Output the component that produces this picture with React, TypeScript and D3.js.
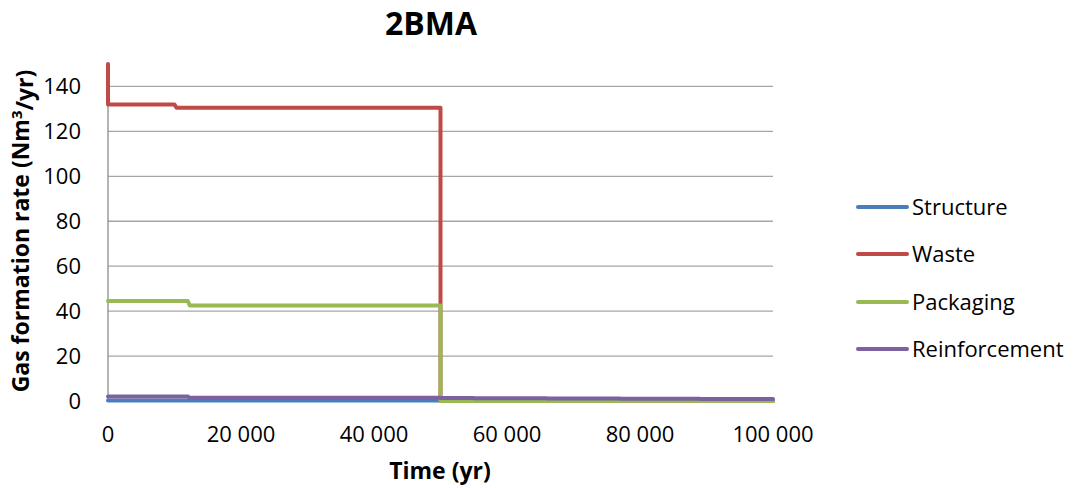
import React from "react";
import * as d3 from "d3";

// Gas formation rate per source, 2BMA (time in years, rate in Nm³/yr)
const structure: [number, number][] = [
  [0, 0.2],
  [100000, 0.2],
];
const waste: [number, number][] = [
  [0, 150],
  [0, 132],
  [10000, 132],
  [10300, 130.5],
  [50000, 130.5],
  [50000, 0],
  [100000, 0],
];
const packaging: [number, number][] = [
  [0, 44.5],
  [12000, 44.5],
  [12300, 42.5],
  [50000, 42.5],
  [50000, 0],
  [100000, 0],
];
const reinforcement: [number, number][] = [
  [0, 2.0],
  [12000, 2.0],
  [12300, 1.4],
  [50000, 1.4],
  [50000, 1.3],
  [55000, 1.3],
  [55000, 1.2],
  [66000, 1.2],
  [66000, 1.1],
  [77000, 1.1],
  [77000, 1.0],
  [89000, 1.0],
  [89000, 0.9],
  [100000, 0.9],
];

const seriesNames = ["Structure", "Waste", "Packaging", "Reinforcement"];
const seriesColors = ["#4a7ebb", "#be4b48", "#98b954", "#7d60a0"];
const seriesData = [structure, waste, packaging, reinforcement];

const yTicks = [0, 20, 40, 60, 80, 100, 120, 140];
const xTicks = [0, 20000, 40000, 60000, 80000, 100000];

const W = 1074;
const H = 488;
const FONT = "'Open Sans', 'Noto Sans', sans-serif";

const x = d3.scaleLinear().domain([0, 100000]).range([108, 773]);
const y = d3.scaleLinear().domain([0, 150]).range([401, 64]);

const fmt = d3
  .formatLocale({ decimal: ".", thousands: " ", grouping: [3], currency: ["", ""] })
  .format(",d");

const line = d3
  .line<[number, number]>()
  .x((d) => x(d[0]))
  .y((d) => y(d[1]));

export default function App() {
  const legendY = [207, 254, 302, 349];
  return (
    <svg
      width={W}
      height={H}
      style={{ position: "absolute", left: 0, top: 0, background: "#fff" }}
      fontFamily={FONT}
    >
      <text x={431} y={35} textAnchor="middle" fontSize={32} fontWeight="bold" fill="#000">
        2BMA
      </text>

      {/* gridlines */}
      {yTicks.slice(1).map((t) => (
        <line key={t} x1={x(0)} x2={x(100000)} y1={y(t)} y2={y(t)} stroke="#a6a6a6" strokeWidth={1.3} />
      ))}
      {/* axes */}
      <line x1={x(0)} x2={x(0)} y1={y(150)} y2={y(0)} stroke="#8c8c8c" strokeWidth={1.3} />
      <line x1={x(0)} x2={x(100000)} y1={y(0)} y2={y(0)} stroke="#8c8c8c" strokeWidth={1.3} />

      {/* y tick labels */}
      {yTicks.map((t) => (
        <text key={t} x={81} y={y(t)} dy="0.35em" textAnchor="end" fontSize={22} fill="#000">
          {t}
        </text>
      ))}
      {/* x tick labels */}
      {xTicks.map((t) => (
        <text key={t} x={x(t)} y={442} textAnchor="middle" fontSize={22} fill="#000">
          {fmt(t)}
        </text>
      ))}

      <text x={440} y={479} textAnchor="middle" fontSize={23} fontWeight="bold" fill="#000">
        Time (yr)
      </text>
      <text
        transform={`translate(29, 231) rotate(-90)`}
        textAnchor="middle"
        fontSize={23}
        fontWeight="bold"
        fill="#000"
      >
        Gas formation rate (Nm<tspan dy="-0.45em" fontSize={15}>3</tspan>
        <tspan dy="0.45em">/yr)</tspan>
      </text>

      {/* series */}
      {seriesData.map((d, i) => (
        <path
          key={seriesNames[i]}
          d={line(d) ?? ""}
          fill="none"
          stroke={seriesColors[i]}
          strokeWidth={4}
          strokeLinejoin="round"
          strokeLinecap="round"
        />
      ))}

      {/* legend */}
      {seriesNames.map((n, i) => (
        <g key={n}>
          <line
            x1={858}
            x2={907}
            y1={legendY[i]}
            y2={legendY[i]}
            stroke={seriesColors[i]}
            strokeWidth={4}
            strokeLinecap="round"
          />
          <text x={912} y={legendY[i]} dy="0.35em" fontSize={22} fill="#000">
            {n}
          </text>
        </g>
      ))}
    </svg>
  );
}
